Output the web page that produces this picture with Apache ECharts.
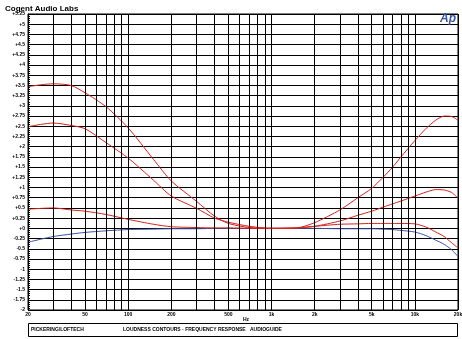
<!DOCTYPE html>
<html><head><meta charset="utf-8">
<script src="https://cdn.jsdelivr.net/npm/echarts@6/dist/echarts.min.js"></script>
<style>html,body{margin:0;padding:0;background:#fff}#c{width:462px;height:339px}</style>
</head><body><div id="c"></div>
<script>
// Frequencies (Hz)
const freqs = [20, 25, 30, 40, 50, 70, 100, 150, 200, 300, 400, 500, 700, 1000, 1500, 2000, 3000, 4000, 5000, 6000, 7000, 8000, 10000, 12000, 14000, 16000, 18000, 20000];
// Level (dBr A)
const curveTop    = [3.47, 3.52, 3.54, 3.50, 3.32, 2.98, 2.46, 1.69, 1.16, 0.66, 0.30, 0.12, 0.02, 0.00, 0.01, 0.14, 0.45, 0.75, 0.98, 1.25, 1.50, 1.75, 2.15, 2.45, 2.65, 2.75, 2.74, 2.65];
const curveMid    = [2.49, 2.55, 2.58, 2.52, 2.44, 2.10, 1.72, 1.18, 0.79, 0.49, 0.25, 0.15, 0.05, 0.00, 0.01, 0.05, 0.18, 0.32, 0.42, 0.52, 0.60, 0.67, 0.79, 0.89, 0.95, 0.94, 0.88, 0.74];
const curveLow    = [0.47, 0.49, 0.50, 0.45, 0.42, 0.34, 0.22, 0.10, 0.04, 0.02, 0.01, 0.01, 0.00, 0.00, 0.01, 0.05, 0.10, 0.11, 0.12, 0.12, 0.12, 0.12, 0.11, 0.03, -0.09, -0.20, -0.35, -0.48];
const curveFlat   = [-0.34, -0.26, -0.20, -0.14, -0.10, -0.06, -0.03, -0.02, -0.01, -0.01, 0.00, 0.00, 0.00, 0.00, 0.00, 0.00, -0.01, -0.01, -0.01, -0.02, -0.03, -0.05, -0.09, -0.18, -0.29, -0.39, -0.52, -0.69];
// Vertical grid lines and labelled ticks
const gridFreqs = [20, 30, 40, 50, 60, 70, 80, 90, 100, 200, 300, 400, 500, 600, 700, 800, 900, 1000, 2000, 3000, 4000, 5000, 6000, 7000, 8000, 9000, 10000, 20000];
const xTickLabels = {20: '20', 50: '50', 100: '100', 200: '200', 500: '500', 1000: '1k', 2000: '2k', 5000: '5k', 10000: '10k', 20000: '20k'};

const pairs = arr => freqs.map((f, i) => [f, arr[i]]);
const FONT = 'Liberation Sans';
const RED = '#d8221c', BLUE = '#3c55a5';

const markData = gridFreqs.map(f => ({
  xAxis: f,
  label: {show: xTickLabels[f] !== undefined, formatter: xTickLabels[f] || ''}
}));

const chart = echarts.init(document.getElementById('c'));
chart.setOption({
  animation: false,
  backgroundColor: '#fff',
  title: {text: 'Cogent Audio Labs', left: 0, top: 0,
    textStyle: {fontFamily: FONT, fontSize: 8, fontWeight: 'bold', color: '#000'}},
  grid: {left: 28, right: 4, top: 14, bottom: 29, show: true, borderColor: '#000', borderWidth: 1,
    containLabel: false, outerBoundsMode: 'none'},
  xAxis: {type: 'log', logBase: 10, min: 20, max: 20000,
    axisLine: {show: false}, axisTick: {show: false}, axisLabel: {show: false},
    splitLine: {show: false}, minorSplitLine: {show: false}},
  yAxis: {type: 'value', min: -2, max: 5.25, interval: 0.25,
    name: 'd B r  A', nameLocation: 'middle', nameGap: 22, nameRotate: 90,
    nameTextStyle: {fontFamily: FONT, fontSize: 5, fontWeight: 'bold', color: '#000'},
    axisLine: {show: true, lineStyle: {color: '#000'}},
    axisTick: {show: true, inside: true, length: 3, lineStyle: {color: '#000'}},
    minorTick: {show: true, splitNumber: 5, length: 2, lineStyle: {color: '#000'}},
    axisLabel: {fontFamily: FONT, fontSize: 5, fontWeight: 'bold', color: '#000', margin: 3,
      formatter: v => (v >= 0 ? '+' : '') + (Math.round(v * 100) / 100)},
    splitLine: {show: true, lineStyle: {color: '#000', width: 1}}},
  series: [
    {type: 'line', data: pairs(curveFlat), showSymbol: false, smooth: 0.25, z: 3,
      lineStyle: {color: BLUE, width: 1}, itemStyle: {color: BLUE}, clip: false,
      markLine: {silent: true, symbol: 'none', animation: false, precision: 0,
        lineStyle: {color: '#000', type: 'solid', width: 1},
        label: {position: 'start', distance: 2, fontFamily: FONT, fontSize: 5, fontWeight: 'bold', color: '#000'},
        data: markData}},
    {type: 'line', data: pairs(curveLow), showSymbol: false, smooth: 0.25, z: 4,
      lineStyle: {color: RED, width: 1}},
    {type: 'line', data: pairs(curveMid), showSymbol: false, smooth: 0.25, z: 4,
      lineStyle: {color: RED, width: 1}},
    {type: 'line', data: pairs(curveTop), showSymbol: false, smooth: 0.25, z: 4,
      lineStyle: {color: RED, width: 1}}
  ],
  graphic: [
    {type: 'text', left: 440, top: 13, z: 10, style: {text: 'Ap', fill: BLUE,
      font: 'italic bold 12px "Liberation Sans"'}},
    {type: 'text', left: 243, top: 317, style: {text: 'Hz', fill: '#000',
      font: 'bold 5px "Liberation Sans"'}},
    {type: 'rect', shape: {x: 28.5, y: 323.5, width: 429, height: 13},
      style: {fill: 'none', stroke: '#000', lineWidth: 1}},
    {type: 'text', left: 31, top: 327, style: {text: 'PICKERING/LOFTECH', fill: '#000',
      font: 'bold 5px "Liberation Sans"'}},
    {type: 'text', left: 123, top: 327, style: {text: 'LOUDNESS CONTOURS - FREQUENCY RESPONSE', fill: '#000',
      font: 'bold 5px "Liberation Sans"'}},
    {type: 'text', left: 250, top: 327, style: {text: 'AUDIOGUIDE', fill: '#000',
      font: 'bold 5px "Liberation Sans"'}}
  ]
});
</script></body></html>
